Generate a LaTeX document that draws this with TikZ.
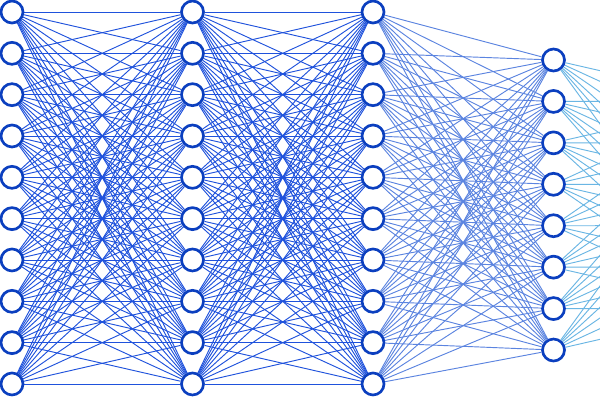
\documentclass[tikz,border=0pt]{standalone}
\usetikzlibrary{backgrounds}
\definecolor{nodeblue}{HTML}{0B3FBF}
\definecolor{edgeA}{HTML}{1F52DC}
\definecolor{edgeB}{HTML}{5B84E0}
\definecolor{edgeC}{HTML}{6AB6E4}
\tikzset{
  neuron/.style={circle, draw=nodeblue, fill=white, line width=2pt, minimum size=16.5pt, inner sep=0pt},
  wireA/.style={draw=edgeA, line width=0.7pt},
  wireB/.style={draw=edgeB, line width=0.7pt},
  wireC/.style={draw=edgeC, line width=0.7pt}
}
\begin{document}
\begin{tikzpicture}[x=0.75pt,y=-0.75pt]
\useasboundingbox (0,0) rectangle (600,400);
\clip (0,0) rectangle (600,400);
% layers
\foreach \i in {1,...,10} {
  \node[neuron] (a\i) at (12, {12+41.33*(\i-1)}) {};
  \node[neuron] (b\i) at (192.5, {12+41.33*(\i-1)}) {};
  \node[neuron] (c\i) at (373, {12+41.33*(\i-1)}) {};
}
\foreach \i in {1,...,8} {
  \node[neuron] (d\i) at (553.5, {60+41.43*(\i-1)}) {};
}
\foreach \i in {1,...,6} {
  \coordinate (e\i) at (734, {101.4+41.43*(\i-1)});
}
\begin{scope}[on background layer]
\fill[white] (0,0) rectangle (600,400);
\foreach \i in {1,...,10} {
  \foreach \j in {1,...,10} {
    \path[wireA] (a\i) -- (b\j);
    \path[wireA] (b\i) -- (c\j);
  }
  \foreach \j in {1,...,8} {
    \path[wireB] (c\i) -- (d\j);
  }
}
\foreach \i in {1,...,8} {
  \foreach \j in {1,...,6} {
    \path[wireC] (d\i) -- (e\j);
  }
}
\end{scope}
\end{tikzpicture}
\end{document}
